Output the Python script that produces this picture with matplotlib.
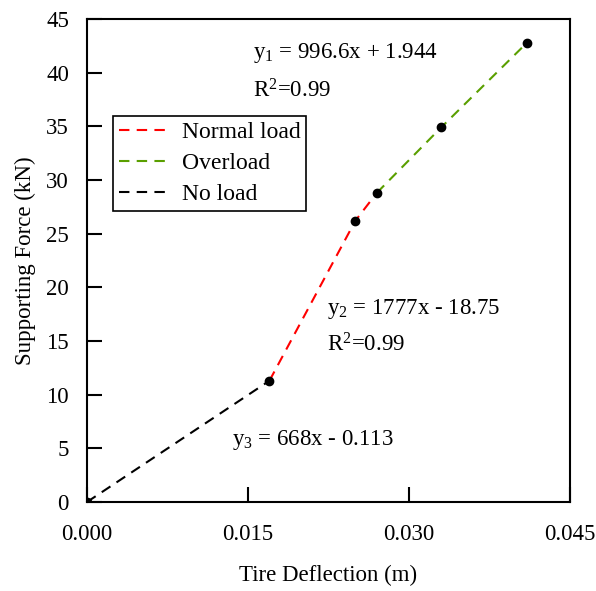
import matplotlib
matplotlib.use("Agg")
import matplotlib.pyplot as plt

plt.rcParams['font.family'] = ['Liberation Serif', 'DejaVu Serif']
plt.rcParams['mathtext.fontset'] = 'custom'
plt.rcParams['mathtext.rm'] = 'Liberation Serif'
plt.rcParams['mathtext.it'] = 'Liberation Serif'

# measured points
deflection = [0.0, 0.017, 0.025, 0.027, 0.033, 0.041]
force = [0.0, 11.3, 26.2, 28.8, 34.9, 42.8]

# segments (index ranges into the points)
no_load = (0, 2)
normal_load = (1, 4)
overload = (3, 6)

x_ticks = [0.000, 0.015, 0.030, 0.045]
x_labels = ['0.000', '0.015', '0.030', '0.045']
y_ticks = [0, 5, 10, 15, 20, 25, 30, 35, 40, 45]

fig = plt.figure(figsize=(5.96, 5.91), dpi=100)
ax = fig.add_axes([87 / 596, 1 - 502 / 591, 483 / 596, 483 / 591])

fs = 16.5

ax.plot(deflection[normal_load[0]:normal_load[1]], force[normal_load[0]:normal_load[1]],
        '--', color='red', lw=1.5, dashes=(5, 3.5), label='Normal load')
ax.plot(deflection[overload[0]:overload[1]], force[overload[0]:overload[1]],
        '--', color='#5a9f00', lw=1.5, dashes=(5, 3.5), label='Overload')
ax.plot(deflection[no_load[0]:no_load[1]], force[no_load[0]:no_load[1]],
        '--', color='black', lw=1.5, dashes=(5, 3.5), label='No load')
ax.plot(deflection, force, 'o', color='black', ms=6, zorder=5)

ax.set_xlim(0, 0.045)
ax.set_ylim(0, 45)
ax.set_xticks(x_ticks)
ax.set_xticklabels(x_labels)
ax.set_yticks(y_ticks)
ax.tick_params(axis='both', direction='in', length=11, width=1.5, labelsize=fs)
ax.tick_params(axis='x', pad=16)
ax.tick_params(axis='y', pad=13)
for s in ax.spines.values():
    s.set_linewidth(1.5)

ax.set_xlabel('Tire Deflection (m)', fontsize=fs, labelpad=14)
ax.set_ylabel('Supporting Force (kN)', fontsize=fs, labelpad=7)

ax.text(0.0155, 41.4, r'y$_1$ = 996.6x + 1.944', fontsize=fs, va='baseline')
ax.text(0.0155, 37.7, r'R$^2$=0.99', fontsize=fs, va='baseline')
ax.text(0.0224, 17.5, r'y$_2$ = 1777x - 18.75', fontsize=fs, va='baseline')
ax.text(0.0224, 14.0, r'R$^2$=0.99', fontsize=fs, va='baseline')
ax.text(0.0135, 5.3, r'y$_3$ = 668x - 0.113', fontsize=fs, va='baseline')

leg = ax.legend(loc='upper left', bbox_to_anchor=(0.054, 0.80), fontsize=17,
                frameon=True, fancybox=False, edgecolor='black', framealpha=1,
                handlelength=2.2, handletextpad=0.45, borderpad=0.25,
                labelspacing=0.4, borderaxespad=0)
leg.get_frame().set_linewidth(1.2)

fig.savefig('out.png', dpi=100)
